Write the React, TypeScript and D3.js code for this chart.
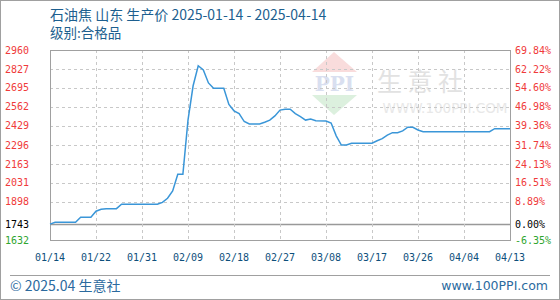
import React from "react";
import * as d3 from "d3";

const dates: string[] = [
  "2025-01-14","2025-01-15","2025-01-19","2025-01-20","2025-01-22","2025-01-23","2025-01-24","2025-01-25",
  "2025-01-27","2025-01-28","2025-02-04","2025-02-05","2025-02-06","2025-02-07","2025-02-08","2025-02-09",
  "2025-02-10","2025-02-11","2025-02-12","2025-02-13","2025-02-14","2025-02-15","2025-02-17","2025-02-18",
  "2025-02-19","2025-02-20","2025-02-21","2025-02-22","2025-02-24","2025-02-25","2025-02-26","2025-02-27",
  "2025-02-28","2025-03-01","2025-03-02","2025-03-03","2025-03-04","2025-03-05","2025-03-06","2025-03-07",
  "2025-03-09","2025-03-10","2025-03-11","2025-03-12","2025-03-13","2025-03-14","2025-03-18","2025-03-19",
  "2025-03-20","2025-03-21","2025-03-22","2025-03-23","2025-03-24","2025-03-25","2025-03-26","2025-03-27",
  "2025-03-28","2025-04-10","2025-04-11","2025-04-14"
];
const prices: number[] = [
  1743,1756,1756,1791,1791,1833,1847,1851,
  1851,1882,1882,1895,1924,1975,2091,2091,
  2470,2710,2850,2820,2730,2692,2692,2580,
  2535,2515,2460,2443,2443,2455,2470,2499,
  2540,2546,2546,2515,2494,2470,2478,2466,
  2464,2450,2360,2296,2296,2308,2308,2326,
  2340,2365,2382,2382,2395,2420,2420,2401,
  2389,2389,2410,2410
];

const yTickValues: number[] = [2960, 2827, 2695, 2562, 2429, 2296, 2163, 2031, 1898, 1743, 1632];
const yRightLabels: string[] = ["69.84%","62.22%","54.60%","46.98%","39.36%","31.74%","24.13%","16.51%","8.89%","0.00%","-6.35%"];
const xTickLabels: string[] = ["01/14","01/22","01/31","02/09","02/18","02/27","03/08","03/17","03/26","04/04","04/13"];
const baseValue = 1743;

const W = 560, H = 300;
const L = 50, R = 510, T = 50, B = 240;

export default function App() {
  const parse = d3.timeParse("%Y-%m-%d");
  const start = parse("2025-01-14")!;
  const end = parse("2025-04-14")!;
  const x = d3.scaleTime().domain([start, end]).range([L, R]);
  const y = d3.scaleLinear().domain([1632, 2960]).range([B, T]);
  const data = dates.map((d, i) => ({ d: parse(d)!, v: prices[i] }));
  const line = d3.line<{ d: Date; v: number }>().x(p => x(p.d)).y(p => y(p.v));
  const tickDates = xTickLabels.map((_, i) => d3.timeDay.offset(start, i * 9));

  const blue = "#1d5f8f";
  const mono = "'DejaVu Sans Mono', 'Liberation Mono', monospace";
  const sans = "'Noto Sans CJK SC', 'DejaVu Sans', sans-serif";

  const labelColor = (v: number) => (v > baseValue ? "#f03a3a" : v === baseValue ? "#000" : "#2fa52f");

  return (
    <svg width={W} height={H} style={{ position: "absolute", left: 0, top: 0, background: "#fff" }}>
      <rect x={0.5} y={0.5} width={W - 1} height={H - 1} fill="#fff" stroke="#a0a0a0" />
      {/* watermark */}
      <g>
        <polygon points="334,52 312,72 357,72" fill="#f9dcdc" />
        <text x={334.5} y={91} textAnchor="middle" fontFamily="'DejaVu Serif', serif" fontWeight="bold" fontSize={20} fill="#d9dff0">PPI</text>
        <polygon points="312,95 357,95 334,115" fill="#dcf0de" />
        <text x={420} y={91} textAnchor="middle" fontFamily={sans} fontSize={25} fill="#e2e2e2">生 意 社</text>
        <text x={445} y={113} textAnchor="middle" fontFamily="'DejaVu Sans', sans-serif" fontSize={13.5} fill="#e8e8e8">WWW.100PPI.COM</text>
      </g>
      {/* titles */}
      <text x={50} y={20} fontFamily={sans} fontSize={14} fill={blue}>石油焦 山东 生产价 2025-01-14 - 2025-04-14</text>
      <text x={50} y={38} fontFamily={sans} fontSize={13.5} fill={blue}>级别:合格品</text>
      {/* grid */}
      {yTickValues.map((v, i) =>
        v === 2960 || v === 1632 ? null : (
          <line key={"h" + i} x1={L} x2={R} y1={Math.round(y(v)) + 0.5} y2={Math.round(y(v)) + 0.5}
            stroke={v === baseValue ? "#999" : "#c8c8c8"} strokeWidth={v === baseValue ? 1.5 : 1}
            strokeDasharray={v === baseValue ? undefined : "3,3"} />
        )
      )}
      {tickDates.slice(1, -1).map((d, i) => (
        <line key={"v" + i} x1={Math.round(x(d)) + 0.5} x2={Math.round(x(d)) + 0.5} y1={T} y2={B}
          stroke="#c8c8c8" strokeDasharray="3,3" />
      ))}
      <rect x={L + 0.5} y={T + 0.5} width={R - L} height={B - T} fill="none" stroke="#a0a0a0" />
      {/* series */}
      <path d={line(data) || ""} fill="none" stroke="#3a96d8" strokeWidth={1.5} />
      {/* y labels */}
      {yTickValues.map((v, i) => (
        <text key={"yl" + i} x={5} y={y(v) + 3.5} fontFamily={mono} fontSize={10} fill={labelColor(v)}>{v}</text>
      ))}
      {yTickValues.map((v, i) => (
        <text key={"yr" + i} x={515} y={y(v) + 3.5} fontFamily={mono} fontSize={10} fill={labelColor(v)}>{yRightLabels[i]}</text>
      ))}
      {/* x labels */}
      {tickDates.map((d, i) => (
        <text key={"xl" + i} x={x(d)} y={261} textAnchor="middle" fontFamily={mono} fontSize={10} fill="#0d4f7c">{xTickLabels[i]}</text>
      ))}
      {/* footer */}
      <line x1={10} x2={550} y1={275.5} y2={275.5} stroke="#a0a0a0" />
      <text x={10} y={291} fontFamily={sans} fontSize={14} fill="#2b6a9e">© 2025.04 生意社</text>
      <text x={548} y={290} textAnchor="end" fontFamily="'DejaVu Sans', sans-serif" fontSize={12.5} fill="#2b6a9e">www.100PPI.com</text>
    </svg>
  );
}
